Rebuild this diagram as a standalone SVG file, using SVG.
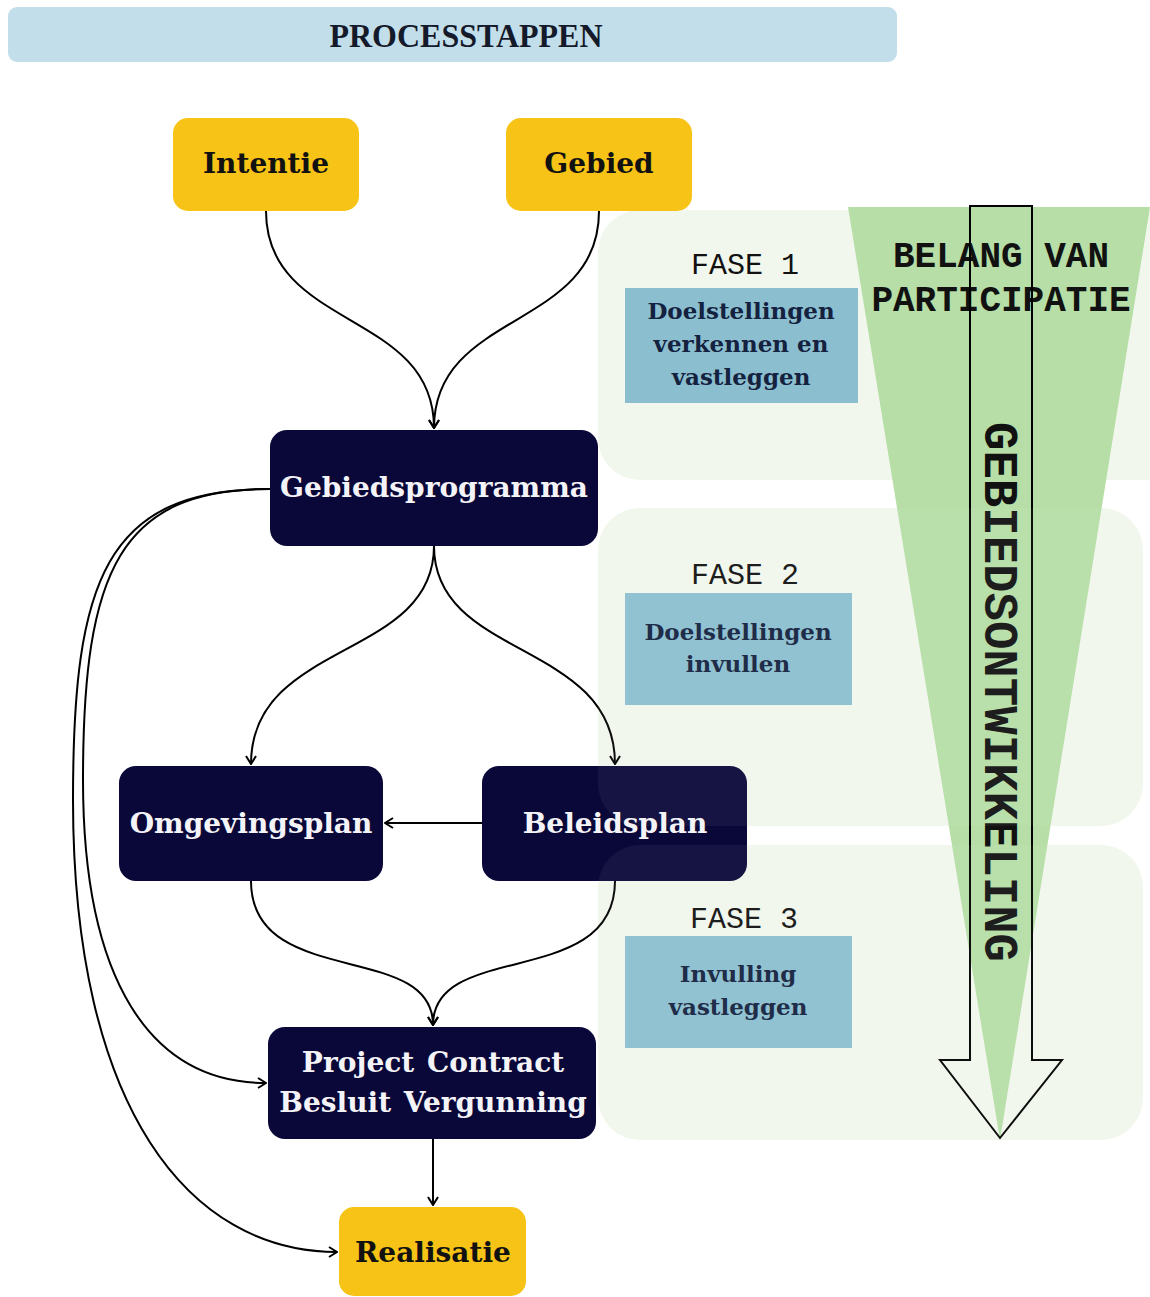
<svg xmlns="http://www.w3.org/2000/svg" width="1150" height="1297" viewBox="0 0 1150 1297">
  <style>
    .yellow { fill: #f6c316; }
    .navy { fill: #0a0838; }
    .lbl-dark { font-family: "DejaVu Serif", "Liberation Serif", serif; font-weight: bold; font-size: 28px; fill: #111111; text-anchor: middle; }
    .lbl-light { font-family: "DejaVu Serif", "Liberation Serif", serif; font-weight: bold; font-size: 28px; fill: #f4f4f8; text-anchor: middle; }
    .phase-bg { fill: #f1f7ec; }
    .phase-veil { fill: #ffffff; opacity: 0.05; }
    .task { fill: #8bbfd0; }
    .task-txt { font-family: "DejaVu Serif", "Liberation Serif", serif; font-weight: bold; font-size: 23px; fill: #14223f; text-anchor: middle; }
    .fase { font-family: "Liberation Mono", "DejaVu Sans Mono", monospace; font-size: 30px; fill: #111111; text-anchor: middle; }
    .mono-bold { font-family: "Liberation Mono", "DejaVu Sans Mono", monospace; font-weight: bold; fill: #111111; }
    .edge { fill: none; stroke: #000000; stroke-width: 2; }
  </style>
  <defs>
    <marker id="arrow" viewBox="0 0 10 12" refX="9" refY="6" markerWidth="10" markerHeight="12" markerUnits="userSpaceOnUse" orient="auto">
      <path d="M1,1 L9,6 L1,11" fill="none" stroke="#000000" stroke-width="2"/>
    </marker>
    <rect id="phase1" x="598" y="210" width="600" height="270" rx="42"/>
    <rect id="phase2" x="598" y="508" width="545" height="318" rx="42"/>
    <rect id="phase3" x="598" y="845" width="545" height="295" rx="42"/>
  </defs>

  <rect width="1150" height="1297" fill="#ffffff"/>

  <!-- title bar -->
  <g id="title">
    <rect x="8" y="7" width="889" height="55" rx="9" fill="#c3deeb"/>
    <text x="466" y="47" font-family="Liberation Serif, DejaVu Serif, serif" font-weight="bold" font-size="33" fill="#141a2a" text-anchor="middle" textLength="273" lengthAdjust="spacingAndGlyphs">PROCESSTAPPEN</text>
  </g>

  <!-- phase bands -->
  <g id="phases">
    <use href="#phase1" class="phase-bg"/>
    <use href="#phase2" class="phase-bg"/>
    <use href="#phase3" class="phase-bg"/>
  </g>

  <!-- participation funnel -->
  <g id="participation">
    <polygon points="848,207 1150,207 1000,1140" fill="#b6dea6"/>
    <text class="mono-bold" x="1001" y="267" font-size="36" text-anchor="middle">BELANG VAN</text>
    <text class="mono-bold" x="1001" y="311" font-size="36" text-anchor="middle">PARTICIPATIE</text>
    <text class="mono-bold" font-size="48" transform="translate(985,422) rotate(90)" textLength="540" lengthAdjust="spacingAndGlyphs">GEBIEDSONTWIKKELING</text>
    <polygon points="970,206 1032,206 1032,1060 1062,1060 1000,1138 940,1060 970,1060" fill="none" stroke="#000000" stroke-width="2" stroke-linejoin="miter"/>
  </g>

  <!-- phase labels and tasks -->
  <g id="fase1">
    <text class="fase" x="745" y="274">FASE 1</text>
    <rect class="task" x="625" y="288" width="233" height="115"/>
    <text class="task-txt" x="741" y="319">Doelstellingen</text>
    <text class="task-txt" x="741" y="352">verkennen en</text>
    <text class="task-txt" x="741" y="385">vastleggen</text>
  </g>
  <g id="fase2">
    <text class="fase" x="745" y="584">FASE 2</text>
    <rect class="task" x="625" y="593" width="227" height="112"/>
    <text class="task-txt" x="738" y="640">Doelstellingen</text>
    <text class="task-txt" x="738" y="672">invullen</text>
  </g>
  <g id="fase3">
    <text class="fase" x="744" y="928">FASE 3</text>
    <rect class="task" x="625" y="936" width="227" height="112"/>
    <text class="task-txt" x="738" y="982">Invulling</text>
    <text class="task-txt" x="738" y="1015">vastleggen</text>
  </g>

  <!-- connectors -->
  <g id="connectors">
    <path class="edge" d="M266,211 C266,330 434,310 434,428" marker-end="url(#arrow)"/>
    <path class="edge" d="M599,211 C599,330 434,310 434,428" marker-end="url(#arrow)"/>
    <path class="edge" d="M434,546 C434,660 251,640 251,764" marker-end="url(#arrow)"/>
    <path class="edge" d="M434,546 C434,660 615,640 615,764" marker-end="url(#arrow)"/>
    <path class="edge" d="M482,823 L385,823" marker-end="url(#arrow)"/>
    <path class="edge" d="M251,881 C251,990 433,940 433,1025" marker-end="url(#arrow)"/>
    <path class="edge" d="M615,881 C615,990 433,940 433,1025" marker-end="url(#arrow)"/>
    <path class="edge" d="M433,1139 L433,1205" marker-end="url(#arrow)"/>
    <path class="edge" d="M270,489 C120,489 83,570 83,780 C83,980 150,1083 266,1083" marker-end="url(#arrow)"/>
    <path class="edge" d="M270,489 C105,489 73,580 73,800 C73,1110 190,1252 337,1252" marker-end="url(#arrow)"/>
  </g>

  <!-- process nodes -->
  <g id="intentie">
    <rect class="yellow" x="173" y="118" width="186" height="93" rx="15"/>
    <text class="lbl-dark" x="266" y="173">Intentie</text>
  </g>
  <g id="gebied">
    <rect class="yellow" x="506" y="118" width="186" height="93" rx="15"/>
    <text class="lbl-dark" x="599" y="173">Gebied</text>
  </g>
  <g id="gebiedsprogramma">
    <rect class="navy" x="270" y="430" width="328" height="116" rx="17"/>
    <text class="lbl-light" x="434" y="497">Gebiedsprogramma</text>
  </g>
  <g id="omgevingsplan">
    <rect class="navy" x="119" y="766" width="264" height="115" rx="17"/>
    <text class="lbl-light" x="251" y="833">Omgevingsplan</text>
  </g>
  <g id="beleidsplan">
    <rect class="navy" x="482" y="766" width="265" height="115" rx="17"/>
    <text class="lbl-light" x="615" y="833">Beleidsplan</text>
  </g>
  <g id="project">
    <rect class="navy" x="268" y="1027" width="328" height="112" rx="17"/>
    <text class="lbl-light" x="433" y="1072" word-spacing="3">Project Contract</text>
    <text class="lbl-light" x="433" y="1112" word-spacing="3">Besluit Vergunning</text>
  </g>
  <g id="realisatie">
    <rect class="yellow" x="339" y="1207" width="187" height="89" rx="15"/>
    <text class="lbl-dark" x="433" y="1262">Realisatie</text>
  </g>

  <!-- faint veil of the phase bands over the nodes they cross -->
  <g id="phase-veil">
    <use href="#phase2" class="phase-veil"/>
    <use href="#phase3" class="phase-veil"/>
  </g>
</svg>
